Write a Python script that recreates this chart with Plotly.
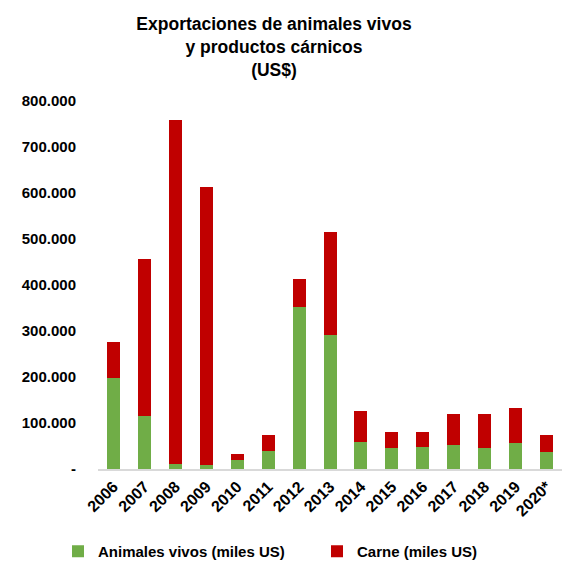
import plotly.graph_objects as go

years = ["2006", "2007", "2008", "2009", "2010", "2011", "2012", "2013",
         "2014", "2015", "2016", "2017", "2018", "2019", "2020*"]
animales_vivos = [198000, 115000, 10000, 8000, 19000, 40000, 353000, 292000,
                  58000, 45000, 47000, 52000, 45000, 56000, 38000]
carne = [78000, 342000, 748000, 604000, 14000, 33000, 60000, 223000,
         68000, 36000, 34000, 68000, 75000, 76000, 37000]

tick_vals = [0, 100000, 200000, 300000, 400000, 500000, 600000, 700000, 800000]
tick_text = ["-", "100.000", "200.000", "300.000", "400.000", "500.000",
             "600.000", "700.000", "800.000"]

FONT = "Liberation Sans Narrow, Arial Narrow, Liberation Sans, Arial, sans-serif"
GREEN = "#70AD47"
RED = "#C00000"

fig = go.Figure()
fig.add_trace(go.Bar(x=years, y=animales_vivos,
                     name="<b>Animales vivos (miles US)</b>",
                     marker=dict(color=GREEN, line=dict(width=0)),
                     legend="legend"))
fig.add_trace(go.Bar(x=years, y=carne,
                     name="<b>Carne (miles US)</b>",
                     marker=dict(color=RED, line=dict(width=0)),
                     legend="legend2"))

legend_common = dict(
    orientation="h",
    xref="container", yref="container",
    xanchor="left", yanchor="top", y=1 - 535 / 563,
    font=dict(family=FONT, size=15, color="black"),
    bgcolor="rgba(0,0,0,0)",
)

fig.update_layout(
    barmode="stack",
    bargap=0.58,
    width=564, height=563,
    paper_bgcolor="white", plot_bgcolor="white",
    margin=dict(l=98, r=2, t=101, b=94),
    font=dict(family=FONT, color="black"),
    title=dict(
        text="<b>Exportaciones de animales vivos<br>y productos cárnicos<br>(US$)</b>",
        x=274 / 564, xref="container", xanchor="center",
        y=1 - 30 / 563, yref="container", yanchor="top",
        font=dict(family=FONT, size=17.5, color="black"),
    ),
    showlegend=True,
    legend=dict(x=58 / 564, **legend_common),
    legend2=dict(x=317 / 564, **legend_common),
)

fig.update_yaxes(
    range=[0, 800000],
    tickvals=tick_vals, ticktext=["<b>%s</b>" % t for t in tick_text],
    tickfont=dict(family=FONT, size=15, color="black"),
    showgrid=False, zeroline=False, showline=False,
    ticks="", ticklabelstandoff=21,
)
fig.update_xaxes(
    tickangle=-45,
    tickvals=years, ticktext=["<b>%s</b>" % y for y in years],
    tickfont=dict(family=FONT, size=16, color="black"),
    showgrid=False, zeroline=False,
    showline=True, linecolor="#D9D9D9", linewidth=2,
    ticks="",
)

fig.write_html("out.html", config={"displayModeBar": False},
               post_script="document.body.style.margin='0px';")
